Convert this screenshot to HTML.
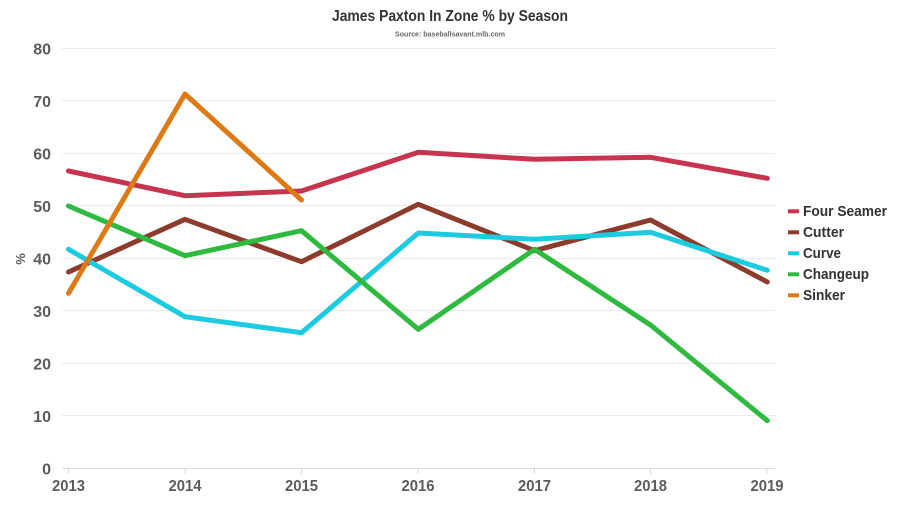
<!DOCTYPE html>
<html><head><meta charset="utf-8"><style>
html,body{margin:0;padding:0;background:#fff;}
svg{display:block;}
text{font-family:"Liberation Sans Narrow","Liberation Sans",sans-serif;font-weight:bold;}
</style></head><body>
<svg width="900" height="506" viewBox="0 0 900 506" xmlns="http://www.w3.org/2000/svg">
<rect width="900" height="506" fill="#fff"/>
<text x="450" y="21" text-anchor="middle" font-size="16" fill="#333" textLength="236" lengthAdjust="spacingAndGlyphs">James Paxton In Zone % by Season</text>
<text x="450" y="36.7" text-anchor="middle" font-size="7" fill="#666" textLength="110" lengthAdjust="spacingAndGlyphs">Source: baseballsavant.mlb.com</text>
<g stroke="#ebebeb" stroke-width="1">
<line x1="62" x2="775" y1="48.5" y2="48.5"/>
<line x1="62" x2="775" y1="100.5" y2="100.5"/>
<line x1="62" x2="775" y1="153.5" y2="153.5"/>
<line x1="62" x2="775" y1="205.5" y2="205.5"/>
<line x1="62" x2="775" y1="258.5" y2="258.5"/>
<line x1="62" x2="775" y1="310.5" y2="310.5"/>
<line x1="62" x2="775" y1="363.5" y2="363.5"/>
<line x1="62" x2="775" y1="415.5" y2="415.5"/>
</g>
<line x1="62" x2="775" y1="468.5" y2="468.5" stroke="#dedede" stroke-width="1"/>
<g stroke="#d8d8d8" stroke-width="1">
<line x1="68.5" x2="68.5" y1="468" y2="474"/>
<line x1="185" x2="185" y1="468" y2="474"/>
<line x1="301.5" x2="301.5" y1="468" y2="474"/>
<line x1="418" x2="418" y1="468" y2="474"/>
<line x1="534.5" x2="534.5" y1="468" y2="474"/>
<line x1="650.5" x2="650.5" y1="468" y2="474"/>
<line x1="767" x2="767" y1="468" y2="474"/>
</g>
<g font-size="16" fill="#5c5c5c" text-anchor="end">
<text x="51" y="54.5">80</text>
<text x="51" y="107">70</text>
<text x="51" y="159.5">60</text>
<text x="51" y="212">50</text>
<text x="51" y="264.5">40</text>
<text x="51" y="317">30</text>
<text x="51" y="369.5">20</text>
<text x="51" y="422">10</text>
<text x="51" y="474.5">0</text>
</g>
<text transform="translate(25,259) rotate(-90)" text-anchor="middle" font-size="13" fill="#5c5c5c">%</text>
<g font-size="16" fill="#5c5c5c" text-anchor="middle">
<text x="68.5" y="491" textLength="33" lengthAdjust="spacingAndGlyphs">2013</text>
<text x="185" y="491" textLength="33" lengthAdjust="spacingAndGlyphs">2014</text>
<text x="301.5" y="491" textLength="33" lengthAdjust="spacingAndGlyphs">2015</text>
<text x="418" y="491" textLength="33" lengthAdjust="spacingAndGlyphs">2016</text>
<text x="534.5" y="491" textLength="33" lengthAdjust="spacingAndGlyphs">2017</text>
<text x="650.5" y="491" textLength="33" lengthAdjust="spacingAndGlyphs">2018</text>
<text x="767" y="491" textLength="33" lengthAdjust="spacingAndGlyphs">2019</text>
</g>
<g fill="none" stroke-width="5" stroke-linejoin="round" stroke-linecap="round">
<polyline stroke="#c8334f" points="68.5,171 185,195.7 301.5,191 418.3,152.3 534.5,159.3 650.5,157.3 767.3,178.3"/>
<polyline stroke="#8c3b2c" points="68.5,272 185,219.3 301.5,261.7 418.3,204.3 534.5,250.7 650.5,220 767.3,282"/>
<polyline stroke="#1ccbe0" points="68.5,249.3 185,316.7 301.5,332.7 418.3,233 534.5,239.3 650.5,232.3 767.3,270.3"/>
<polyline stroke="#2dba3f" points="68.5,206 185,255.7 301.5,230.7 418.3,329.3 534.5,249.3 650.5,325 767.3,420.7"/>
<polyline stroke="#de7a16" points="68.5,293.3 185,94 301.5,200"/>
</g>
<g>
<rect x="788" y="209.3" width="11" height="4" fill="#c8334f"/>
<rect x="788" y="230.3" width="11" height="4" fill="#8c3b2c"/>
<rect x="788" y="251.3" width="11" height="4" fill="#1ccbe0"/>
<rect x="788" y="272.3" width="11" height="4" fill="#2dba3f"/>
<rect x="788" y="293.3" width="11" height="4" fill="#de7a16"/>
</g>
<g font-size="15" fill="#333">
<text x="803" y="216" textLength="84" lengthAdjust="spacingAndGlyphs">Four Seamer</text>
<text x="803" y="237" textLength="41" lengthAdjust="spacingAndGlyphs">Cutter</text>
<text x="803" y="258" textLength="38" lengthAdjust="spacingAndGlyphs">Curve</text>
<text x="803" y="279" textLength="66" lengthAdjust="spacingAndGlyphs">Changeup</text>
<text x="803" y="300" textLength="42" lengthAdjust="spacingAndGlyphs">Sinker</text>
</g>
</svg>
</body></html>
